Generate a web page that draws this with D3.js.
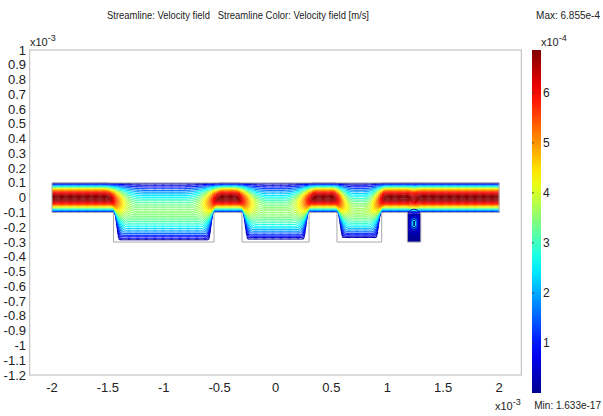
<!DOCTYPE html>
<html lang="en">
<head>
<meta charset="utf-8">
<style>
  body { margin: 0; background: #fff; }
  svg { display: block; background: #fff; }
  text { font-family: "Liberation Sans Narrow", "Liberation Sans", sans-serif; fill: #222; white-space: pre; }
  .tick { font-size: 13px; }
  .frame { fill: none; stroke: #c4c4c4; stroke-width: 1.2px; }
  .wall { fill: none; stroke: #a9a9a9; stroke-width: 1px; }
</style>
<script src="https://d3js.org/d3.v7.min.js"></script>
</head>
<body>
<script>
var width = 603, height = 416;

// axis tick labels (x10^-3)
var xTicks = [-2, -1.5, -1, -0.5, 0, 0.5, 1, 1.5, 2];
var yTicks = [1, 0.9, 0.8, 0.7, 0.6, 0.5, 0.4, 0.3, 0.2, 0.1, 0, -0.1, -0.2, -0.3, -0.4,
              -0.5, -0.6, -0.7, -0.8, -0.9, -1, -1.1, -1.2];
// colour bar (x10^-4 m/s)
var cbTicks = [1, 2, 3, 4, 5, 6];
var vMax = 6.855, vMin = 1.633e-13;

// geometry (x10^-3 m)
var chanX = [-2, 2];
var chanY = [-0.1, 0.1];
var cavX0 = [-1.45, -0.3, 0.55, 1.18];
var cavX1 = [-0.55, 0.3, 0.95, 1.3];
var cavBottom = [-0.3, -0.3, -0.3, -0.3];
// how deep the streamlines reach into each cavity
var cavReach = [-0.29, -0.285, -0.275, -0.108];

// streamline seeds: relative height at the inlet (0 = bottom wall, 1 = top wall)
var seeds = [0.015, 0.04, 0.065, 0.09, 0.12, 0.15, 0.18, 0.21, 0.24, 0.27, 0.3, 0.33,
             0.36, 0.39, 0.42, 0.45, 0.48, 0.51, 0.54, 0.57, 0.6, 0.63, 0.66, 0.69,
             0.72, 0.75, 0.78, 0.81, 0.84, 0.87, 0.9, 0.93, 0.96, 0.985];

// recirculation loops in the cavities: relative size and speed
var loopSize = [0.9, 0.75, 0.6, 0.45, 0.32, 0.2];
var loopVel = [0.2, 0.35, 0.6, 1.0, 1.8, 2.8];

var x = d3.scaleLinear().domain([-2, 2]).range([52, 499]);
var y = d3.scaleLinear().domain([-1.2, 1]).range([375, 50]);

var jet = d3.scaleLinear()
  .domain([0, 0.125, 0.375, 0.625, 0.875, 1].map(function(t) { return vMin + t * (vMax - vMin); }))
  .range(["#00008f", "#0000ff", "#00ffff", "#ffff00", "#ff0000", "#800000"])
  .clamp(true);

var svg = d3.select("body").append("svg")
  .attr("width", width).attr("height", height);

// title & annotations
svg.append("text").attr("x", 238).attr("y", 19).attr("text-anchor", "middle")
  .attr("textLength", 262).attr("lengthAdjust", "spacingAndGlyphs")
  .style("font-size", "11px")
  .text("Streamline: Velocity field   Streamline Color: Velocity field [m/s]");
svg.append("text").attr("x", 600).attr("y", 19).attr("text-anchor", "end")
  .style("font-size", "10px").text("Max: 6.855e-4");
svg.append("text").attr("x", 601).attr("y", 409).attr("text-anchor", "end")
  .style("font-size", "10px").text("Min: 1.633e-17");

function sciLabel(px, py, exp) {
  var t = svg.append("text").attr("x", px).attr("y", py).style("font-size", "11px");
  t.append("tspan").text("x10");
  t.append("tspan").attr("dy", -5).style("font-size", "9px").text(exp);
}
sciLabel(30, 46, "-3");
sciLabel(495, 410, "-3");
sciLabel(541, 46, "-4");

// frame
svg.append("rect").attr("class", "frame")
  .attr("x", x(-2.2)).attr("y", y(1))
  .attr("width", x(2.2) - x(-2.2)).attr("height", y(-1.2) - y(1));

// tick labels
svg.append("g").selectAll("text").data(yTicks).join("text")
  .attr("class", "tick").attr("x", 26).attr("y", function(d) { return y(d) + 4.5; })
  .attr("text-anchor", "end").text(function(d) { return d; });
svg.append("g").selectAll("text").data(xTicks).join("text")
  .attr("class", "tick").attr("x", function(d) { return x(d); }).attr("y", 392)
  .attr("text-anchor", "middle").text(function(d) { return d; });

// streamlines
function smooth(t) { t = Math.max(0, Math.min(1, t)); return t * t * (3 - 2 * t); }

// how far a line of seed eta has dropped into cavity i at position xv (0..1)
function dip(xv, i, eta) {
  var wCav = cavX1[i] - cavX0[i];
  var w = Math.min(0.02 + 0.2 * eta, wCav / 4);
  var c = 0.02 + w * 0.4;
  var a = cavX0[i] + c, b = cavX1[i] - c;
  return smooth((xv - (a - w)) / (2 * w)) * smooth(((b + w) - xv) / (2 * w));
}

var gLines = svg.append("g");
var step = 0.008;
var xs = d3.range(chanX[0], chanX[1] + step / 2, step);

seeds.forEach(function(eta) {
  var pts = xs.map(function(xv) {
    var floor = chanY[0];
    for (var i = 0; i < cavX0.length; i++) {
      var s = dip(xv, i, eta);
      if (s > 0) floor = chanY[0] + (cavReach[i] - chanY[0]) * s;
    }
    var hgt = chanY[1] - floor;
    var yv = chanY[1] - hgt * (1 - eta);
    var v = vMax * 4 * eta * (1 - eta) * (chanY[1] - chanY[0]) / hgt;
    return [xv, yv, v];
  });
  var segs = d3.pairs(pts);
  gLines.append("g").selectAll("line").data(segs).join("line")
    .attr("x1", function(d) { return x(d[0][0]); })
    .attr("y1", function(d) { return y(d[0][1]); })
    .attr("x2", function(d) { return x(d[1][0]) + 0.3; })
    .attr("y2", function(d) { return y(d[1][1]); })
    .attr("stroke", function(d) { return jet((d[0][2] + d[1][2]) / 2); })
    .attr("stroke-width", 1.1);
});

// recirculation in the cavities below the streamlines
var gLoops = svg.append("g");
cavX0.forEach(function(x0, i) {
  var top = cavReach[i], bot = cavBottom[i];
  if (top - bot < 0.05) return;
  var cx = (x0 + cavX1[i]) / 2, cy = (top + bot) / 2 + 0.03;
  var hw = (cavX1[i] - x0) / 2, hh = (top - bot) / 2 + 0.01;
  gLoops.append("rect")
    .attr("x", x(cx - hw)).attr("y", y(top))
    .attr("width", x(cx + hw) - x(cx - hw)).attr("height", y(bot) - y(top))
    .attr("fill", jet(0.05));
  gLoops.selectAll(null).data(loopSize.map(function(s, k) { return [s, loopVel[k]]; }))
    .join("rect")
    .attr("x", function(d) { return x(cx - hw * d[0]); })
    .attr("y", function(d) { return y(cy + hh * d[0]); })
    .attr("width", function(d) { return x(cx + hw * d[0]) - x(cx - hw * d[0]); })
    .attr("height", function(d) { return y(cy - hh * d[0]) - y(cy + hh * d[0]); })
    .attr("rx", function(d) { return (x(cx + hw * d[0]) - x(cx - hw * d[0])) * 0.45; })
    .attr("fill", "none")
    .attr("stroke", function(d) { return jet(d[1]); })
    .attr("stroke-width", 1);
});

// walls
var wall = [[chanX[0], chanY[1]], [chanX[1], chanY[1]], [chanX[1], chanY[0]]];
for (var i = cavX0.length - 1; i >= 0; i--) {
  wall.push([cavX1[i], chanY[0]], [cavX1[i], cavBottom[i]], [cavX0[i], cavBottom[i]], [cavX0[i], chanY[0]]);
}
wall.push([chanX[0], chanY[0]], [chanX[0], chanY[1]]);
svg.append("path").attr("class", "wall")
  .attr("d", d3.line().x(function(d) { return x(d[0]); }).y(function(d) { return y(d[1]); })(wall));

// colour bar
var cb = d3.scaleLinear().domain([0, vMax]).range([393, 50]);
var grad = svg.append("defs").append("linearGradient").attr("id", "jetGrad")
  .attr("x1", 0).attr("y1", 1).attr("x2", 0).attr("y2", 0);
grad.selectAll("stop").data(d3.range(0, 1.0001, 0.05)).join("stop")
  .attr("offset", function(d) { return d; })
  .attr("stop-color", function(d) { return jet(vMin + d * (vMax - vMin)); });
svg.append("rect").attr("x", 532).attr("y", cb(vMax)).attr("width", 9)
  .attr("height", cb(0) - cb(vMax)).attr("fill", "url(#jetGrad)");
var cbAxis = svg.append("g");
cbAxis.selectAll("line").data(cbTicks).join("line")
  .attr("x1", 532).attr("x2", 534)
  .attr("y1", function(d) { return cb(d); }).attr("y2", function(d) { return cb(d); })
  .attr("stroke", "#333").attr("stroke-width", 0.8);
cbAxis.selectAll("text").data(cbTicks).join("text")
  .attr("x", 543).attr("y", function(d) { return cb(d) + 4.5; })
  .style("font-size", "12px").text(function(d) { return d; });
</script>
</body>
</html>
